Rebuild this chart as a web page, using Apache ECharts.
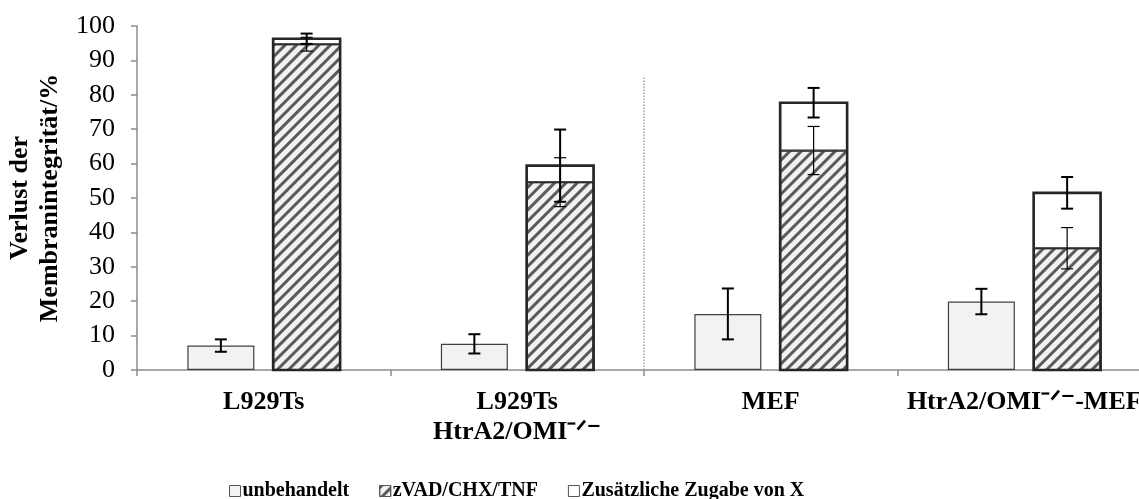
<!DOCTYPE html>
<html><head><meta charset="utf-8">
<script src="https://cdn.jsdelivr.net/npm/echarts@6/dist/echarts.min.js"></script>
<style>html,body{margin:0;padding:0;background:#fff}#c{width:1139px;height:499px}</style>
</head><body><div id="c"></div>
<script>
// ---- data ----
const categories = ['L929Ts', 'L929Ts\nHtrA2/OMI⁻ᐟ⁻', 'MEF', 'HtrA2/OMI⁻ᐟ⁻-MEF'];
const seriesNames = ['unbehandelt', 'zVAD/CHX/TNF', 'Zusätzliche Zugabe von X'];
const untreated = [7.1, 7.6, 16.3, 19.9];
const untreatedErr = [1.8, 2.8, 7.4, 3.7];
const zvad = [94.7, 54.6, 63.8, 35.4];
const zvadErr = [2.0, 7.1, 7.0, 6.0];
const additional = [1.6, 4.8, 13.9, 16.1];
const totalErr = [1.5, 10.5, 4.3, 4.6];
const yMin = 0, yMax = 100, yInterval = 10;
const yName = 'Verlust der\nMembranintegrität/%';
const separator = [[2, 0], [2, 85]];

// ---- layout / style ----
const FONT = '"Liberation Serif", "Times New Roman", serif';
const BAR_W = 67, GAP_PCT = 28;
const OFFSET = (BAR_W + BAR_W * GAP_PCT / 100) / 2;
const totals = zvad.map((v, i) => v + additional[i]);

function errSeries(vals, errs, side, lw) {
  return {
    type: 'custom', xAxisIndex: 0, yAxisIndex: 0, z: 10, silent: true,
    data: vals.map((v, i) => [i, v, errs[i]]),
    encode: { x: 0, y: 1 },
    renderItem: (params, api) => {
      const i = api.value(0), v = api.value(1), e = api.value(2);
      const hi = api.coord([i, v + e]), lo = api.coord([i, v - e]);
      const x = hi[0] + side * OFFSET, cap = 6;
      const st = { stroke: '#000', lineWidth: lw };
      return { type: 'group', children: [
        { type: 'line', shape: { x1: x, y1: hi[1], x2: x, y2: lo[1] }, style: st },
        { type: 'line', shape: { x1: x - cap, y1: hi[1], x2: x + cap, y2: hi[1] }, style: st },
        { type: 'line', shape: { x1: x - cap, y1: lo[1], x2: x + cap, y2: lo[1] }, style: st }
      ]};
    }
  };
}

// thick outline around the stacked bar (zVAD + Zusatz)
const outlineSeries = {
  type: 'custom', xAxisIndex: 0, yAxisIndex: 0, z: 5, silent: true,
  data: totals.map((v, i) => [i, v]),
  encode: { x: 0, y: 1 },
  renderItem: (params, api) => {
    const i = api.value(0), v = api.value(1);
    const top = api.coord([i, v]), base = api.coord([i, 0]);
    const x = top[0] + OFFSET - BAR_W / 2;
    return { type: 'rect', shape: { x: x, y: top[1], width: BAR_W, height: base[1] - top[1] },
      style: { fill: 'none', stroke: '#262626', lineWidth: 2.6 } };
  }
};

const chart = echarts.init(document.getElementById('c'), null, { renderer: 'canvas' });
chart.setOption({
  animation: false,
  backgroundColor: '#fff',
  textStyle: { fontFamily: FONT, color: '#000' },
  grid: { left: 137, right: -12, top: 26, bottom: 129, containLabel: false, outerBoundsMode: 'none' },
  legend: {
    data: seriesNames, left: 224, top: 476, itemWidth: 11, itemHeight: 11, itemGap: 30,
    icon: 'rect',
    itemStyle: { borderWidth: 1, borderColor: '#555' },
    textStyle: { fontFamily: FONT, fontWeight: 'bold', fontSize: 20, color: '#000', padding: [0, 0, 0, -3] }
  },
  xAxis: [{
    type: 'category', data: categories,
    axisLine: { lineStyle: { color: '#8c8c8c', width: 1.5 } },
    axisTick: { show: true, length: 6, lineStyle: { color: '#8c8c8c', width: 1.5 } },
    axisLabel: { interval: 0, fontFamily: FONT, fontWeight: 'bold', fontSize: 26, color: '#000', margin: 17, lineHeight: 30, hideOverlap: false }
  }, {
    type: 'value', min: 0, max: 4, show: false
  }],
  yAxis: {
    type: 'value', min: yMin, max: yMax, interval: yInterval,
    name: yName, nameLocation: 'middle', nameRotate: 90, nameGap: 70,
    nameTextStyle: { fontFamily: FONT, fontWeight: 'bold', fontSize: 26, color: '#000', lineHeight: 30 },
    axisLine: { show: true, lineStyle: { color: '#8c8c8c', width: 1.5 } },
    axisTick: { show: true, length: 6, lineStyle: { color: '#8c8c8c', width: 1.5 } },
    splitLine: { show: false },
    axisLabel: { fontFamily: FONT, fontSize: 26, color: '#000', margin: 22 }
  },
  series: [
    { type: 'bar', name: seriesNames[0], data: untreated, barWidth: BAR_W, barGap: GAP_PCT + '%',
      itemStyle: { color: '#f2f2f2', borderColor: '#404040', borderWidth: 1.2 } },
    { type: 'bar', name: seriesNames[1], data: zvad, stack: 'tot', barWidth: BAR_W,
      itemStyle: { color: '#f2f2f2', borderColor: '#262626', borderWidth: 1,
        decal: { symbol: 'rect', symbolSize: 1, dashArrayX: [[1, 0]], dashArrayY: [3, 5], rotation: -Math.PI / 4, color: '#5a5a5a' } } },
    { type: 'bar', name: seriesNames[2], data: additional, stack: 'tot', barWidth: BAR_W,
      itemStyle: { color: '#ffffff', borderColor: '#262626', borderWidth: 1 } },
    outlineSeries,
    { type: 'line', xAxisIndex: 1, yAxisIndex: 0, data: separator, symbol: 'none', silent: true,
      lineStyle: { color: '#a0a0a0', width: 1.5, type: 'dotted' }, z: 1 },
    errSeries(untreated, untreatedErr, -1, 2),
    errSeries(zvad, zvadErr, 1, 1.2),
    errSeries(totals, totalErr, 1, 2)
  ]
});
</script></body></html>
